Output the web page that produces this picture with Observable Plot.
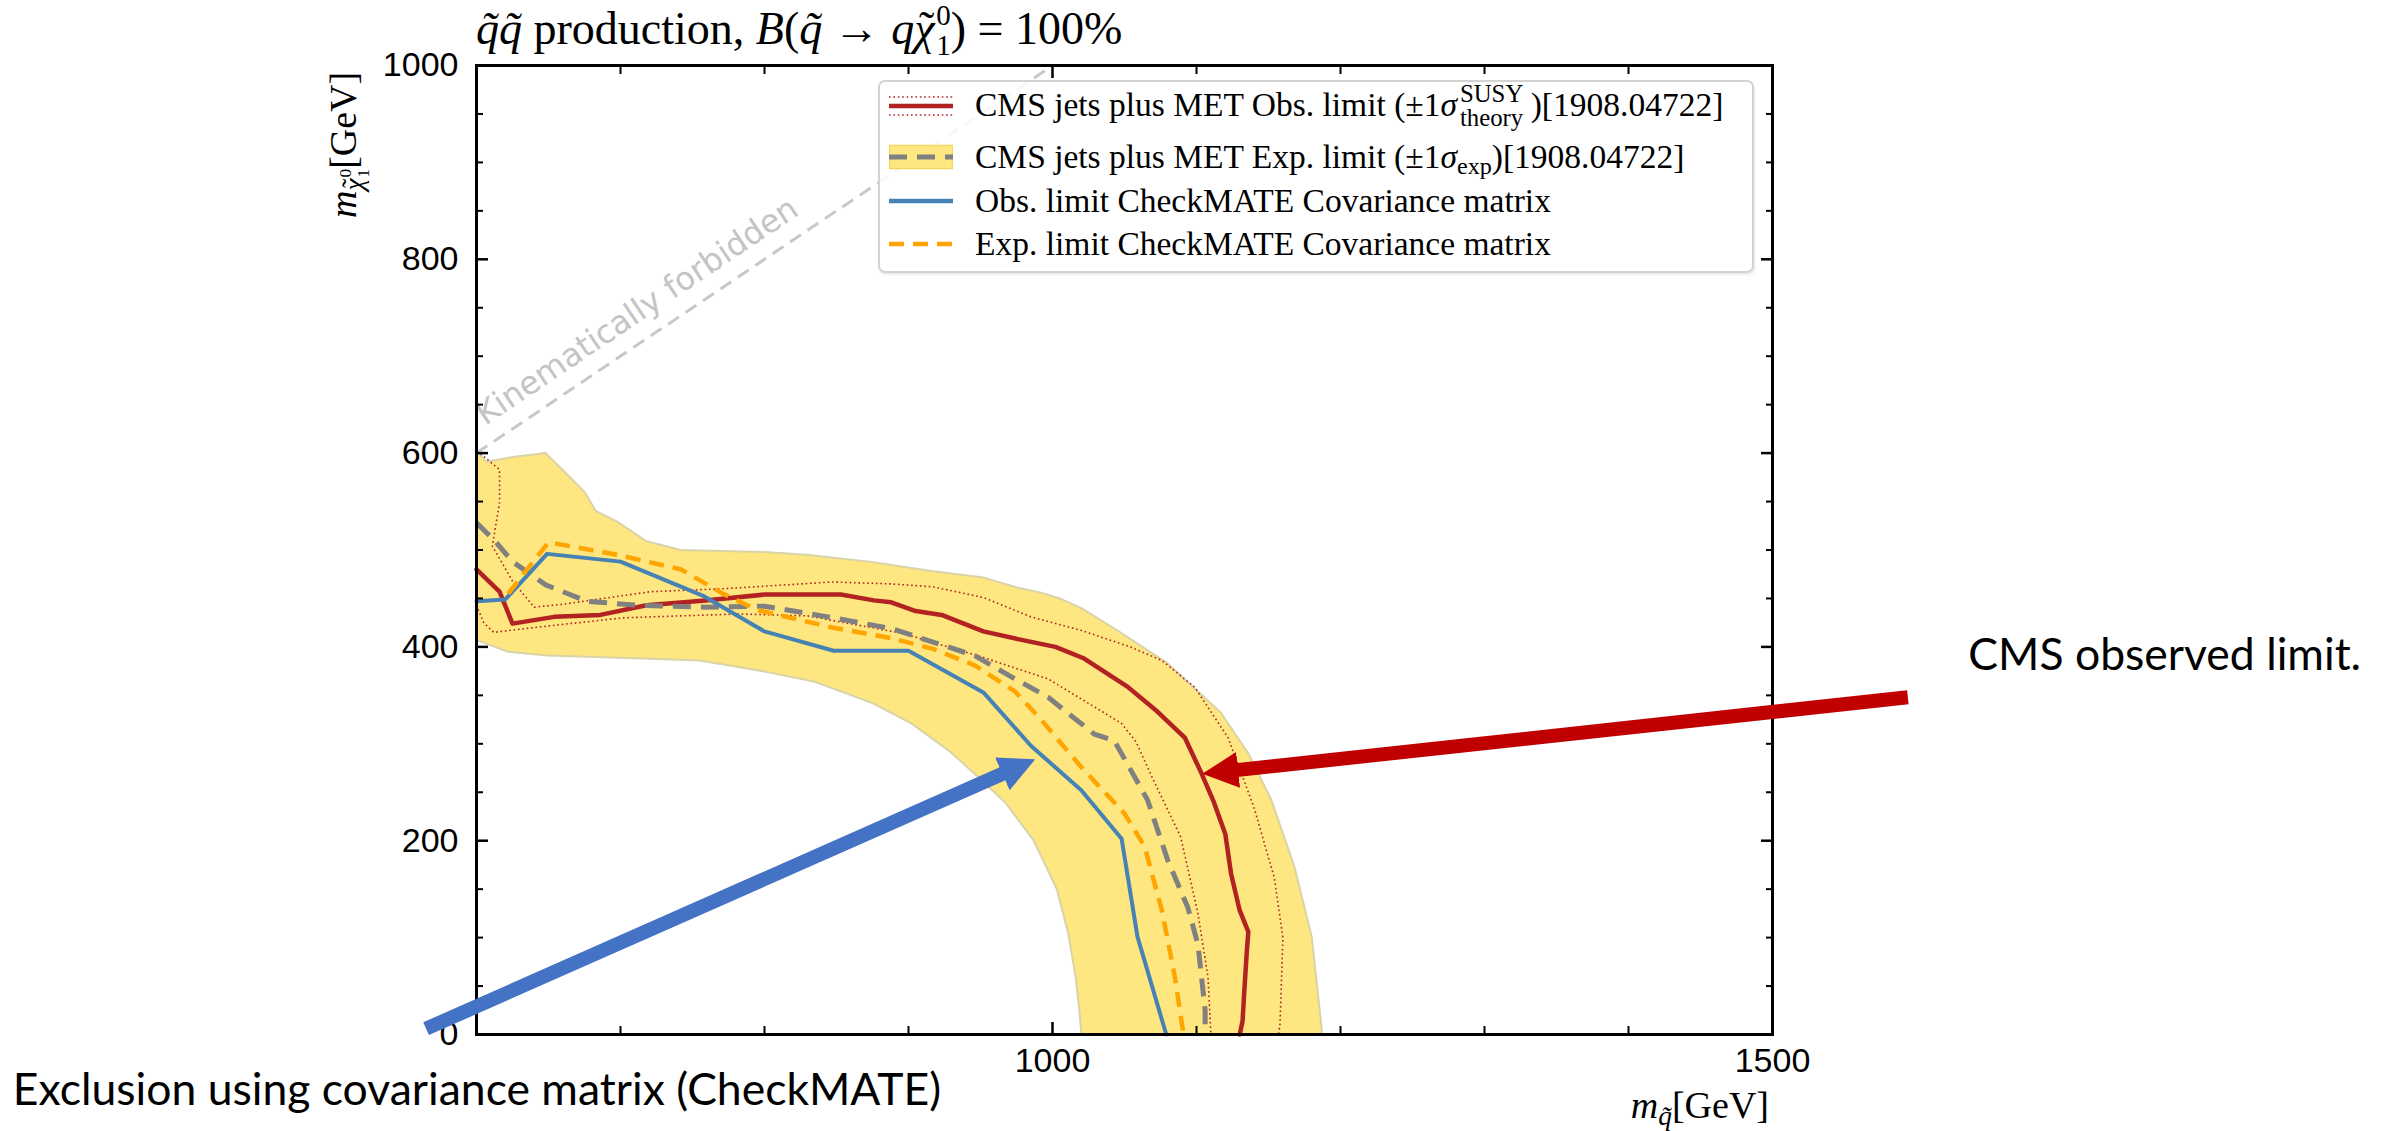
<!DOCTYPE html>
<html>
<head>
<meta charset="utf-8">
<script src="https://cdn.jsdelivr.net/npm/d3@7"></script>
<script src="https://cdn.jsdelivr.net/npm/@observablehq/plot@0.6"></script>
<style>
  html, body { margin:0; padding:0; background:#fff; }
  #chart { position:relative; width:2391px; height:1131px; overflow:hidden; background:#fff; }
  #chart > svg { position:absolute; left:0; top:0; }
  .ov { position:absolute; white-space:nowrap; line-height:1; color:#000; }
  .serif { font-family:"Liberation Serif","Times New Roman",serif; }
  .ss { display:inline-flex; flex-direction:column; font-size:0.63em; line-height:1.05; vertical-align:0.667em; text-align:left; font-style:normal; margin-left:0.06em; }
  .sb { font-size:0.72em; position:relative; top:0.24em; }
  .tl { position:relative; display:inline-block; }
  .tmark { position:absolute; left:0.1em; right:0; top:-0.04em; text-align:center; font-style:normal; }
  #legend { position:absolute; left:878px; top:80px; width:872px; height:189px; border:2px solid #d2d2d2; border-radius:7px; background:rgba(255,255,255,0.85); box-shadow:1px 2px 2px rgba(0,0,0,0.08); }
  .lrow { position:absolute; left:0; height:44px; display:flex; align-items:center; }
  .lrow svg { margin-left:9px; margin-right:22px; flex:none; }
  .ltext { font-size:33.5px; line-height:1; }
  .ltext .ss { font-size:0.74em; line-height:0.95; vertical-align:0.58em; margin-left:0.12em; margin-right:0.3em; }
</style>
</head>
<body>
<div id="chart"></div>
<script>
// ---------------- data (GeV) ----------------
const xDomain = [600, 1500];
const yDomain = [0, 1000];
const xMajorTicks = [1000, 1500];
const xMinorTicks = [600, 700, 800, 900, 1100, 1200, 1300, 1400];
const yMajorTicks = [0, 200, 400, 600, 800, 1000];
const yMinorTicks = [50, 100, 150, 250, 300, 350, 450, 500, 550, 650, 700, 750, 850, 900, 950];

// CMS observed limit
const cmsObs = [[600,480],[616,457],[625,424],[654,431],[686,433],[718,443],[759,448],[800,454],[853,454],[876,448],[888,446],[905,437],[923,433],[952,416],[976,408],[1002,400],[1022,388],[1052,359],[1073,333],[1092,306],[1103,271],[1112,240],[1120,207],[1124,166],[1130,128],[1136,106],[1135,87],[1133,40],[1132,14],[1130,0]];
// CMS observed +1 sigma theory
const cmsObsUp = [[600,601],[603,599],[616,583],[616,549],[611,504],[625,468],[640,441],[660,444],[683,449],[721,457],[771,460],[847,467],[888,465],[917,462],[952,451],[985,431],[1020,417],[1054,400],[1076,386],[1099,358],[1122,306],[1140,234],[1154,162],[1160,100],[1158,11],[1157,0]];
// CMS observed -1 sigma theory
const cmsObsDown = [[600,443],[605,425],[612,415],[640,420],[702,430],[782,434],[830,432],[896,414],[950,390],[997,367],[1048,321],[1058,302],[1069,266],[1089,204],[1101,125],[1108,59],[1110,0]];
// CMS expected limit
const cmsExp = [[600,528],[613,509],[625,488],[648,464],[677,447],[712,443],[759,441],[800,442],[844,431],[888,419],[917,405],[946,391],[974,367],[997,348],[1029,310],[1043,303],[1066,242],[1080,180],[1094,131],[1101,93],[1106,25],[1106,0]];
// CMS expected +-1 sigma band: outer edge, then inner edge
const bandOuter = [[600,602],[607,591],[625,596],[648,600],[663,578],[675,560],[683,540],[698,529],[718,509],[742,500],[800,498],[829,495],[873,488],[917,478],[951,472],[976,461],[992,456],[1005,450],[1020,440],[1043,419],[1080,383],[1117,332],[1136,290],[1152,242],[1168,173],[1180,101],[1187,5],[1187,0]];
const bandInner = [[1020,0],[1019,20],[1016,60],[1011,104],[1003,150],[987,200],[968,238],[949,265],[928,293],[902,321],[875,342],[835,364],[795,376],[755,386],[715,388],[649,391],[622,395],[600,407]];
// CheckMATE covariance matrix observed / expected
const cmObs = [[600,447],[620,449],[649,496],[700,488],[757,453],[800,416],[848,396],[900,396],[952,353],[985,298],[1020,252],[1048,202],[1059,101],[1079,0]];
const cmExp = [[622,455],[650,508],[698,495],[742,480],[771,455],[795,438],[847,420],[888,409],[917,398],[946,381],[974,354],[992,325],[1020,276],[1050,228],[1064,194],[1076,128],[1085,59],[1091,0]];
// kinematic limit m_chi = m_squark
const kinematicLine = [[600,600],[1000,1000]];
const kinematicLabel = [{x: 606, y: 628, text: "Kinematically forbidden"}];

// slide annotations (in GeV coordinates)
const annotationArrows = [
  {x1: 1594, y1: 348, x2: 1104, y2: 269},
  {x1: 565, y1: 6, x2: 988, y2: 284}
];
const annotationTexts = [
  {x: 1636, y: 376, text: "CMS observed limit."},
  {x: 278, y: -73, text: "Exclusion using covariance matrix (CheckMATE)"}
];

// ---------------- styles ----------------
const W = 2391, H = 1131;
const mL = 476, mR = 619, mT = 65, mB = 97;
const arrowColors = ["#C00000", "#4472C4"];
const red = "#B22222", gray = "#808080", blue = "#4682B4", orange = "#FFA500", bandFill = "#FEE680";
const kx = (W - mL - mR) / (xDomain[1] - xDomain[0]);
const ky = (H - mT - mB) / (yDomain[1] - yDomain[0]);
const kinAngle = -Math.atan(ky / kx) * 180 / Math.PI;
const X = d => d[0], Y = d => d[1];

const plot = Plot.plot({
  width: W, height: H,
  marginLeft: mL, marginRight: mR, marginTop: mT, marginBottom: mB,
  x: {domain: xDomain},
  y: {domain: yDomain},
  style: {fontFamily: "'Liberation Sans', Arial, sans-serif", fontSize: "34px", color: "#000", background: "transparent"},
  marks: [
    Plot.line(bandOuter.concat(bandInner), {x: X, y: Y, fill: bandFill, stroke: "#d9d3a8", strokeWidth: 2, curve: "linear-closed"}),
    Plot.line(kinematicLine, {x: X, y: Y, stroke: "#c8c8c8", strokeWidth: 3, strokeDasharray: "13,8", strokeLinecap: "butt"}),
    Plot.text(kinematicLabel, {x: "x", y: "y", text: "text", rotate: kinAngle, textAnchor: "start", lineAnchor: "bottom", fill: "#c4c4c4", fontSize: 32, fontFamily: "'DejaVu Sans', sans-serif"}),
    Plot.line(cmsObsUp, {x: X, y: Y, stroke: red, strokeWidth: 1.6, strokeDasharray: "1.6,2.8", strokeLinecap: "butt"}),
    Plot.line(cmsObsDown, {x: X, y: Y, stroke: red, strokeWidth: 1.6, strokeDasharray: "1.6,2.8", strokeLinecap: "butt"}),
    Plot.line(cmsObs, {x: X, y: Y, stroke: red, strokeWidth: 4.5}),
    Plot.line(cmsExp, {x: X, y: Y, stroke: gray, strokeWidth: 5, strokeDasharray: "18,10", strokeLinecap: "butt"}),
    Plot.line(cmObs, {x: X, y: Y, stroke: blue, strokeWidth: 4}),
    Plot.line(cmExp, {x: X, y: Y, stroke: orange, strokeWidth: 4.5, strokeDasharray: "15,9", strokeLinecap: "butt"}),
    Plot.frame({stroke: "#000", strokeWidth: 3}),
    Plot.axisY({ticks: yMajorTicks, anchor: "left", tickSize: -12, tickPadding: 30, strokeWidth: 2.5, label: null, tickFormat: d => String(d)}),
    Plot.axisY({ticks: yMinorTicks, anchor: "left", tickSize: -7, strokeWidth: 2, fill: "none", label: null}),
    Plot.axisY({ticks: yMajorTicks, anchor: "right", tickSize: -12, strokeWidth: 2.5, fill: "none", label: null}),
    Plot.axisY({ticks: yMinorTicks, anchor: "right", tickSize: -7, strokeWidth: 2, fill: "none", label: null}),
    Plot.axisX({ticks: xMajorTicks, anchor: "bottom", tickSize: -12, tickPadding: 25, strokeWidth: 2.5, label: null, tickFormat: d => String(d)}),
    Plot.axisX({ticks: xMinorTicks, anchor: "bottom", tickSize: -8, strokeWidth: 2, fill: "none", label: null}),
    Plot.axisX({ticks: xMajorTicks, anchor: "top", tickSize: -12, strokeWidth: 2.5, fill: "none", label: null}),
    Plot.axisX({ticks: xMinorTicks, anchor: "top", tickSize: -8, strokeWidth: 2, fill: "none", label: null}),
    Plot.link([annotationArrows[0]], {x1: "x1", y1: "y1", x2: "x2", y2: "y2", stroke: arrowColors[0], strokeWidth: 14, strokeLinecap: "butt"}),
    Plot.link([annotationArrows[1]], {x1: "x1", y1: "y1", x2: "x2", y2: "y2", stroke: arrowColors[1], strokeWidth: 14, strokeLinecap: "butt"}),
    Plot.text(annotationTexts, {x: "x", y: "y", text: "text", textAnchor: "start", lineAnchor: "bottom", fill: "#000", fontSize: 44.5, fontFamily: "Lato, 'Open Sans', sans-serif"})
  ]
});

const chart = document.getElementById("chart");
chart.appendChild(plot);

// filled arrow heads for the slide annotations
const ns = "http://www.w3.org/2000/svg";
const defs = document.createElementNS(ns, "defs");
plot.insertBefore(defs, plot.firstChild);
const headLen = 36, headW = 36;
plot.querySelectorAll('g[aria-label="link"]').forEach((g, i) => {
  const id = "annot-head-" + i;
  const m = document.createElementNS(ns, "marker");
  m.setAttribute("id", id);
  m.setAttribute("viewBox", `0 0 ${headLen} ${headW}`);
  m.setAttribute("refX", headLen);
  m.setAttribute("refY", headW / 2);
  m.setAttribute("markerWidth", headLen);
  m.setAttribute("markerHeight", headW);
  m.setAttribute("markerUnits", "userSpaceOnUse");
  m.setAttribute("orient", "auto");
  const p = document.createElementNS(ns, "path");
  p.setAttribute("d", `M0,0L${headLen},${headW / 2}L0,${headW}Z`);
  p.setAttribute("fill", arrowColors[i]);
  m.appendChild(p);
  defs.appendChild(m);
  g.querySelectorAll("path").forEach(path => {
    const len = path.getTotalLength();
    path.setAttribute("stroke-dasharray", `${len - headLen + 4} ${len + 100}`);
    path.setAttribute("marker-end", `url(#${id})`);
  });
});

// ---------------- titles, axis labels, legend (HTML text) ----------------
function addDiv(html, cls, style) {
  const d = document.createElement("div");
  d.className = cls;
  d.setAttribute("style", style);
  d.innerHTML = html;
  chart.appendChild(d);
  return d;
}
const stack = (a, b) => `<span class="ss"><span>${a}</span><span>${b}</span></span>`;
const chiTilde = `<span class="tl"><i>χ</i><span class="tmark">˜</span></span>`;

addDiv(`<i>q̃q̃</i> production, <i>B</i>(<i>q̃</i> → <i>q</i>${chiTilde}${stack("0", "1")}) = 100%`,
  "ov serif", "left:476px;top:0px;font-size:46px;");
addDiv(`<i>m</i><span class="sb">${chiTilde}${stack("0", "1")}</span>[GeV]`,
  "ov serif", "left:0;top:0;font-size:38px;transform-origin:0 0;transform:translate(345px,218px) rotate(-90deg) translateY(-50%);");
addDiv(`<i>m</i><span class="sb"><i>q̃</i></span>[GeV]`,
  "ov serif", "right:622px;top:1086px;font-size:38px;");

const legend = addDiv("", "serif", "");
legend.id = "legend";
const legendRows = [
  {top: 2, svg: `<line x1="0" x2="64" y1="13" y2="13" stroke="${red}" stroke-width="1.6" stroke-dasharray="1.6,2.8"/><line x1="0" x2="64" y1="22" y2="22" stroke="${red}" stroke-width="4.5"/><line x1="0" x2="64" y1="31" y2="31" stroke="${red}" stroke-width="1.6" stroke-dasharray="1.6,2.8"/>`,
   html: `CMS jets plus MET Obs. limit (±1<i>σ</i>${stack("SUSY", "theory")})[1908.04722]`},
  {top: 53, svg: `<rect x="0.5" y="10.5" width="63" height="23" fill="${bandFill}" stroke="#f0d860" stroke-width="1.5"/><line x1="0" x2="64" y1="22" y2="22" stroke="${gray}" stroke-width="5" stroke-dasharray="18,10"/>`,
   html: `CMS jets plus MET Exp. limit (±1<i>σ</i><span class="sb">exp</span>)[1908.04722]`},
  {top: 97, svg: `<line x1="0" x2="64" y1="22" y2="22" stroke="${blue}" stroke-width="4.5"/>`,
   html: `Obs. limit CheckMATE Covariance matrix`},
  {top: 140, svg: `<line x1="0" x2="64" y1="22" y2="22" stroke="${orange}" stroke-width="4.5" stroke-dasharray="15,9"/>`,
   html: `Exp. limit CheckMATE Covariance matrix`}
];
legendRows.forEach(r => {
  const row = document.createElement("div");
  row.className = "lrow";
  row.style.top = r.top + "px";
  row.innerHTML = `<svg width="64" height="44">${r.svg}</svg><span class="ltext">${r.html}</span>`;
  legend.appendChild(row);
});
</script>
</body>
</html>
